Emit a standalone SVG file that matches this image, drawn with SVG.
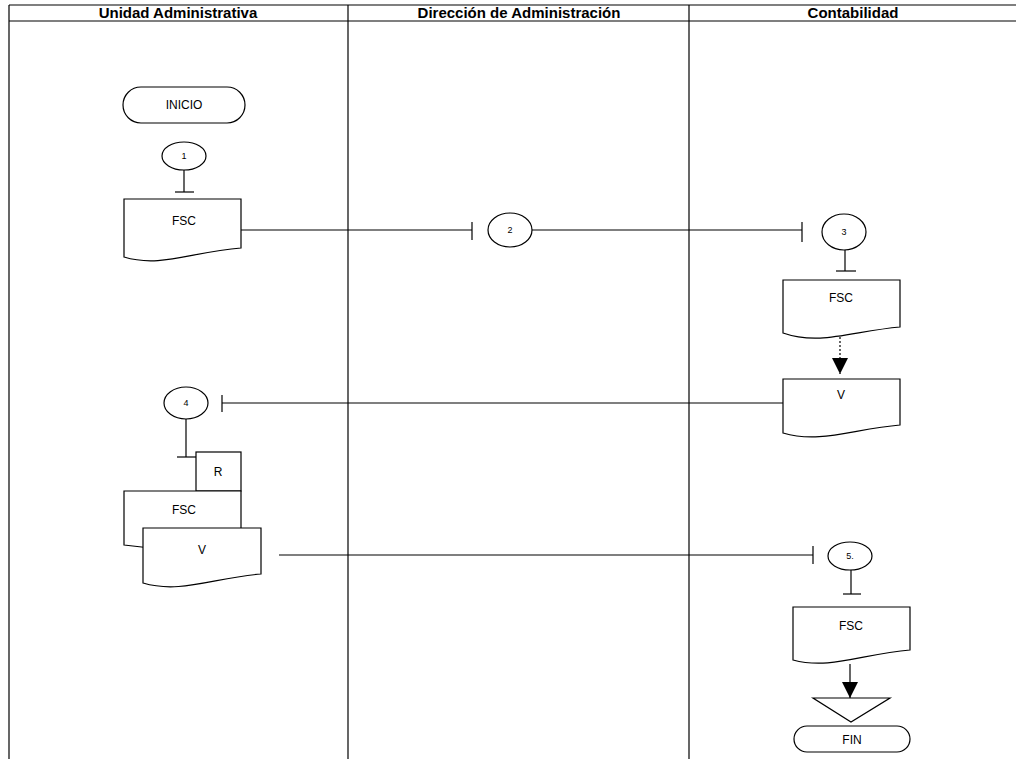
<svg xmlns="http://www.w3.org/2000/svg" width="1016" height="759" viewBox="0 0 1016 759">
<style>
.ln{stroke:#000;stroke-width:1.2;fill:none}
.sh{stroke:#000;stroke-width:1.2;fill:#fff}
.hd{font-family:"Liberation Sans",Arial,sans-serif;font-weight:bold;font-size:15px;fill:#000;text-anchor:middle}
.tx{font-family:"Liberation Sans",Arial,sans-serif;font-size:12px;fill:#000;text-anchor:middle}
.nm{font-family:"Liberation Sans",Arial,sans-serif;font-size:9px;fill:#000;text-anchor:middle}
</style>
<defs>
<marker id="ah" markerUnits="userSpaceOnUse" markerWidth="16" markerHeight="16" refX="16" refY="8" orient="auto" viewBox="0 0 16 16">
<path d="M0,0 L16,8 L0,16 Z" fill="#000"/>
</marker>
</defs>
<rect width="1016" height="759" fill="#fff"/>
<g id="lanes">
<line class="ln" x1="9" y1="5" x2="1016" y2="5"/>
<line class="ln" x1="9" y1="21" x2="1016" y2="21"/>
<line class="ln" x1="9" y1="5" x2="9" y2="759"/>
<line class="ln" x1="348" y1="5" x2="348" y2="759"/>
<line class="ln" x1="689" y1="5" x2="689" y2="759"/>
<text class="hd" x="178" y="18">Unidad Administrativa</text>
<text class="hd" x="519" y="18">Dirección de Administración</text>
<text class="hd" x="853" y="18">Contabilidad</text>
</g>
<g id="connectors">
<line class="ln" x1="184" y1="170" x2="184" y2="192"/>
<line class="ln" x1="175" y1="192" x2="194" y2="192"/>
<line class="ln" x1="241" y1="230" x2="472" y2="230"/>
<line class="ln" x1="472" y1="222" x2="472" y2="240"/>
<line class="ln" x1="532" y1="230" x2="802" y2="230"/>
<line class="ln" x1="802" y1="222" x2="802" y2="242"/>
<line class="ln" x1="845" y1="250" x2="845" y2="271"/>
<line class="ln" x1="836" y1="271" x2="856" y2="271"/>
<line class="ln" x1="840" y1="337" x2="840" y2="374" stroke-dasharray="2,2" marker-end="url(#ah)"/>
<line class="ln" x1="783" y1="403" x2="222" y2="403"/>
<line class="ln" x1="222" y1="395" x2="222" y2="412"/>
<line class="ln" x1="186" y1="419" x2="186" y2="457"/>
<line class="ln" x1="177" y1="457" x2="196" y2="457"/>
<line class="ln" x1="279" y1="555" x2="813" y2="555"/>
<line class="ln" x1="813" y1="546" x2="813" y2="564"/>
<line class="ln" x1="851" y1="570" x2="851" y2="594"/>
<line class="ln" x1="843" y1="594" x2="861" y2="594"/>
<line class="ln" x1="850" y1="664" x2="850" y2="698" marker-end="url(#ah)"/>
</g>
<g id="inicio">
<rect class="sh" x="123" y="87" width="122" height="36" rx="18"/>
<text class="tx" x="184" y="109">INICIO</text>
</g>
<g id="c1">
<ellipse class="sh" cx="184" cy="156" rx="22" ry="14"/>
<text class="nm" x="184" y="159">1</text>
</g>
<g id="doc1">
<path class="sh" d="M124,199 H241 V248 C191,252 160,268 124,257 Z"/>
<text class="tx" x="184" y="225">FSC</text>
</g>
<g id="c2">
<ellipse class="sh" cx="510" cy="230" rx="22" ry="17"/>
<text class="nm" x="510" y="233">2</text>
</g>
<g id="c3">
<ellipse class="sh" cx="844" cy="232" rx="22" ry="18"/>
<text class="nm" x="844" y="235">3</text>
</g>
<g id="doc3">
<path class="sh" d="M783,280 H900 V327 C853,331 820,346 783,333 Z"/>
<text class="tx" x="841" y="302">FSC</text>
</g>
<g id="v3">
<path class="sh" d="M783,379 H900 V425 C853,429 820,444 783,433 Z"/>
<text class="tx" x="841" y="399">V</text>
</g>
<g id="c4">
<ellipse class="sh" cx="186" cy="403" rx="22" ry="16"/>
<text class="nm" x="186" y="406">4</text>
</g>
<g id="r">
<rect class="sh" x="196" y="452" width="45" height="39"/>
<text class="tx" x="218" y="476">R</text>
</g>
<g id="fsc4">
<path class="sh" d="M124,491 H241 V540 C200,544 170,552 124,545 Z"/>
<text class="tx" x="184" y="514">FSC</text>
</g>
<g id="v4">
<path class="sh" d="M143,528 H261 V574 C213,578 180,594 143,583 Z"/>
<text class="tx" x="202" y="554">V</text>
</g>
<g id="c5">
<ellipse class="sh" cx="850" cy="556" rx="22" ry="14"/>
<text class="nm" x="850" y="559">5.</text>
</g>
<g id="doc5">
<path class="sh" d="M793,607 H910 V650 C862,654 830,670 793,660 Z"/>
<text class="tx" x="851" y="630">FSC</text>
</g>
<g id="tri">
<polygon class="sh" points="813,698 890,698 851,722"/>
</g>
<g id="fin">
<rect class="sh" x="794" y="726" width="116" height="26" rx="13"/>
<text class="tx" x="852" y="744">FIN</text>
</g>
</svg>
